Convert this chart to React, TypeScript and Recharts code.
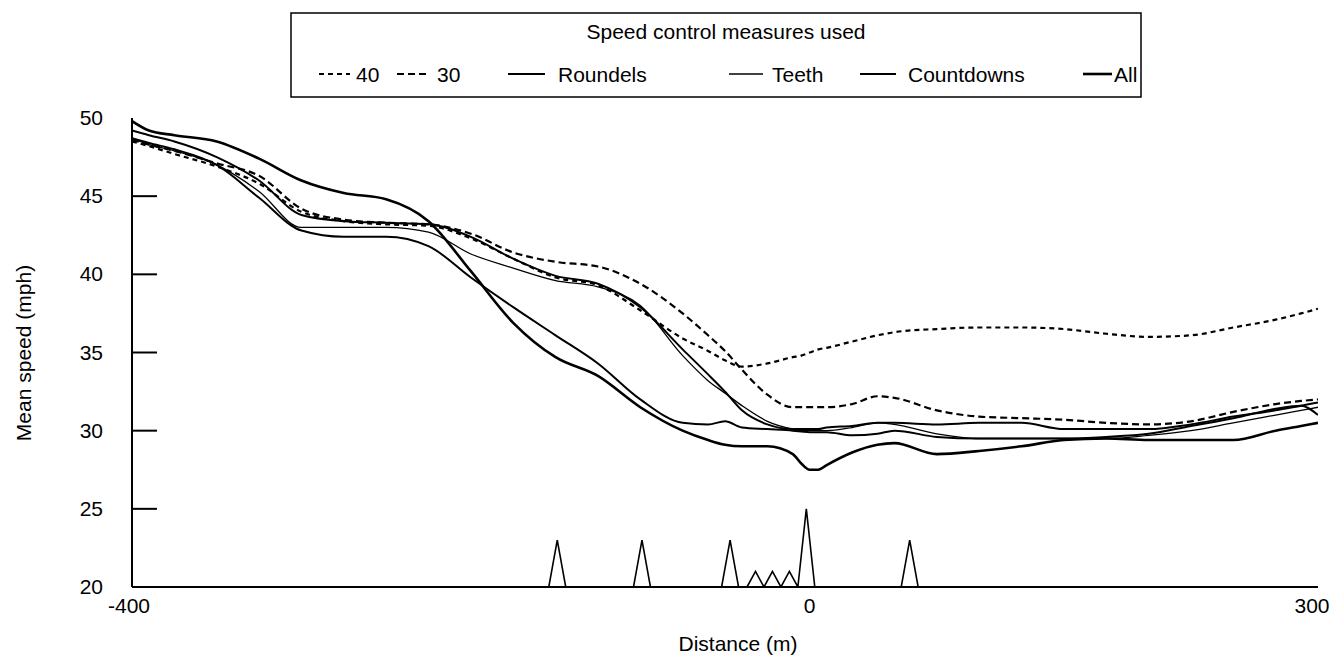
import React from "react";
import { LineChart, Line, XAxis, YAxis } from "recharts";

// distance along the approach (m)
const DIST = [-400, -390, -375, -350, -325, -300, -275, -250, -225, -200, -175, -150, -125, -100, -75, -60, -50, -40, -25, -10, -5, 0, 5, 10, 25, 40, 50, 75, 100, 125, 150, 175, 200, 225, 250, 275, 290, 300];

// mean speed (mph) per measure
const SPEED_40 = [48.5, 48.2, 47.7, 46.9, 45.8, 44.0, 43.4, 43.2, 43.1, 42.3, 41.0, 39.8, 39.3, 37.7, 35.9, 35.1, 34.5, 34.1, 34.3, 34.7, 34.8, 35.0, 35.2, 35.3, 35.7, 36.1, 36.3, 36.5, 36.6, 36.6, 36.5, 36.2, 36.0, 36.1, 36.6, 37.1, 37.5, 37.8];
const SPEED_30 = [48.6, 48.3, 47.9, 47.1, 46.3, 44.2, 43.5, 43.3, 43.2, 42.6, 41.4, 40.8, 40.5, 39.4, 37.5, 36.1, 35.1, 33.9, 32.3, 31.5, 31.5, 31.5, 31.5, 31.5, 31.7, 32.2, 32.1, 31.3, 30.9, 30.8, 30.7, 30.5, 30.4, 30.6, 31.2, 31.7, 31.9, 32.0];
const ROUNDELS = [49.2, 48.9, 48.5, 47.5, 46.0, 43.8, 43.4, 43.3, 43.2, 42.4, 41.0, 39.9, 39.4, 37.9, 35.2, 33.6, 32.5, 31.3, 30.4, 30.1, 30.1, 30.1, 30.1, 30.2, 30.3, 30.5, 30.5, 30.4, 30.5, 30.5, 30.1, 30.1, 30.1, 30.4, 30.9, 31.3, 31.6, 31.8];
const TEETH = [48.7, 48.3, 47.9, 47.0, 45.3, 43.0, 43.0, 43.0, 42.7, 41.3, 40.4, 39.6, 39.2, 38.0, 34.8, 33.2, 32.4, 31.6, 30.6, 30.1, 30.0, 30.0, 30.0, 30.0, 30.2, 30.5, 30.4, 29.8, 29.5, 29.5, 29.5, 29.5, 29.7, 30.0, 30.5, 31.0, 31.3, 31.5];
const COUNTDOWNS = [48.7, 48.4, 48.0, 47.0, 44.9, 42.8, 42.4, 42.4, 41.8, 39.8, 37.9, 36.1, 34.3, 32.0, 30.5, 30.4, 30.6, 30.2, 30.1, 30.0, 29.95, 29.9, 29.9, 29.9, 29.7, 29.8, 30.0, 29.6, 29.5, 29.5, 29.5, 29.6, 29.8, 30.3, 30.8, 31.4, 31.6, 31.0];
const ALL = [49.8, 49.2, 48.9, 48.5, 47.4, 46.0, 45.2, 44.8, 43.4, 40.2, 36.9, 34.7, 33.5, 31.5, 30.0, 29.4, 29.1, 29.0, 29.0, 28.5, 27.9, 27.5, 27.5, 27.8, 28.6, 29.1, 29.2, 28.5, 28.7, 29.0, 29.4, 29.5, 29.4, 29.4, 29.4, 30.0, 30.3, 30.5];

// positions (m) and heights (mph) of the site markers along the bottom
const MARK_POS = [-149, -99, -47, -32, -22, -12, -2, 59];
const MARK_TOP = [23, 23, 23, 21, 21, 21, 25, 23];
const MARK_HALF = 5;

const Y_TICKS = [20, 25, 30, 35, 40, 45, 50];
const X_TICKS = [-400, 0, 300];

const SERIES = [
  { key: "s40", name: "40", values: SPEED_40, width: 2.2, dash: "5 4" },
  { key: "s30", name: "30", values: SPEED_30, width: 2.2, dash: "7 4" },
  { key: "roundels", name: "Roundels", values: ROUNDELS, width: 2, dash: undefined },
  { key: "teeth", name: "Teeth", values: TEETH, width: 1.3, dash: undefined },
  { key: "countdowns", name: "Countdowns", values: COUNTDOWNS, width: 2, dash: undefined },
  { key: "all", name: "All", values: ALL, width: 2.6, dash: undefined },
];

// legend layout: sample start, sample length, text start
const LEG_SAMPLE_X = [319, 397, 508, 729, 860, 1083];
const LEG_SAMPLE_W = [31, 33, 37, 34, 36, 29];
const LEG_TEXT_X = [356, 437, 558, 772, 908, 1114];

const FONT = "'Liberation Sans', Arial, Helvetica, sans-serif";

const rows = DIST.map((x, i) => {
  const r: Record<string, number> = { x };
  SERIES.forEach(s => {
    r[s.key] = s.values[i];
  });
  return r;
});

const markerData = [
  { x: -400, y: 20 },
  ...MARK_POS.flatMap((p, i) => [
    { x: p - MARK_HALF, y: 20 },
    { x: p, y: MARK_TOP[i] },
    { x: p + MARK_HALF, y: 20 },
  ]),
  { x: 300, y: 20 },
];

const YTick = (props: any) => {
  const { x, y, payload } = props;
  return (
    <g>
      <text x={x} y={y} dy={7} textAnchor="end" fontSize={21} fontFamily={FONT} fill="#000">
        {payload.value}
      </text>
      {payload.value > 20 && payload.value < 50 && (
        <line x1={x + 29} x2={x + 54} y1={y} y2={y} stroke="#000" strokeWidth={2} />
      )}
    </g>
  );
};

const XTick = (props: any) => {
  const { x, y, payload } = props;
  const shift = payload.value === 300 ? -6 : payload.value === -400 ? -3 : 0;
  return (
    <text x={x + shift} y={y} dy={15} textAnchor="middle" fontSize={21} fontFamily={FONT} fill="#000">
      {payload.value}
    </text>
  );
};

const LegendBox = () => (
  <svg width={1334} height={110} style={{ position: "absolute", left: 0, top: 0 }}>
    <rect x={291} y={13} width={850} height={84} fill="#fff" stroke="#000" strokeWidth={1.5} />
    <text x={726} y={39} textAnchor="middle" fontSize={21} fontFamily={FONT} fill="#000">
      Speed control measures used
    </text>
    {SERIES.map((s, i) => (
      <g key={s.key}>
        <line
          x1={LEG_SAMPLE_X[i]}
          x2={LEG_SAMPLE_X[i] + LEG_SAMPLE_W[i]}
          y1={74}
          y2={74}
          stroke="#000"
          strokeWidth={s.width}
          strokeDasharray={s.dash}
        />
        <text x={LEG_TEXT_X[i]} y={82} fontSize={21} fontFamily={FONT} fill="#000">
          {s.name}
        </text>
      </g>
    ))}
  </svg>
);

export default function App() {
  return (
    <div style={{ position: "absolute", left: 0, top: 0, width: 1334, height: 655, background: "#fff" }}>
      <LineChart width={1334} height={655} data={rows} margin={{ top: 118, right: 16, left: 72, bottom: 8 }}>
        <XAxis
          dataKey="x"
          type="number"
          domain={[-400, 300]}
          ticks={X_TICKS}
          allowDataOverflow
          height={60}
          tickSize={0}
          tickMargin={11}
          tick={<XTick />}
          axisLine={{ stroke: "#000", strokeWidth: 2 }}
          label={{
            content: () => (
              <text x={738} y={651} textAnchor="middle" fontSize={21} fontFamily={FONT} fill="#000">
                Distance (m)
              </text>
            ),
          }}
        />
        <XAxis
          xAxisId="top"
          orientation="top"
          dataKey="x"
          type="number"
          domain={[-400, 300]}
          height={0}
          tick={false}
          tickLine={false}
          axisLine={{ stroke: "#000", strokeWidth: 2 }}
        />
        <YAxis
          type="number"
          domain={[20, 50]}
          ticks={Y_TICKS}
          allowDataOverflow
          width={60}
          tickSize={0}
          tickMargin={29}
          tick={<YTick />}
          axisLine={{ stroke: "#000", strokeWidth: 2 }}
          label={{
            content: () => (
              <text
                x={31}
                y={353}
                transform="rotate(-90 31 353)"
                textAnchor="middle"
                fontSize={21}
                fontFamily={FONT}
                fill="#000"
              >
                Mean speed (mph)
              </text>
            ),
          }}
        />
        <YAxis
          yAxisId="right"
          orientation="right"
          type="number"
          domain={[20, 50]}
          width={0}
          tick={false}
          tickLine={false}
          axisLine={{ stroke: "#000", strokeWidth: 2 }}
        />
        {SERIES.map(s => (
          <Line
            key={s.key}
            dataKey={s.key}
            name={s.name}
            type="monotone"
            stroke="#000"
            strokeWidth={s.width}
            strokeDasharray={s.dash}
            dot={false}
            activeDot={false}
            isAnimationActive={false}
          />
        ))}
        <Line
          data={markerData}
          dataKey="y"
          name="markers"
          type="linear"
          stroke="#000"
          strokeWidth={1.6}
          dot={false}
          activeDot={false}
          legendType="none"
          isAnimationActive={false}
        />
      </LineChart>
      <LegendBox />
    </div>
  );
}
